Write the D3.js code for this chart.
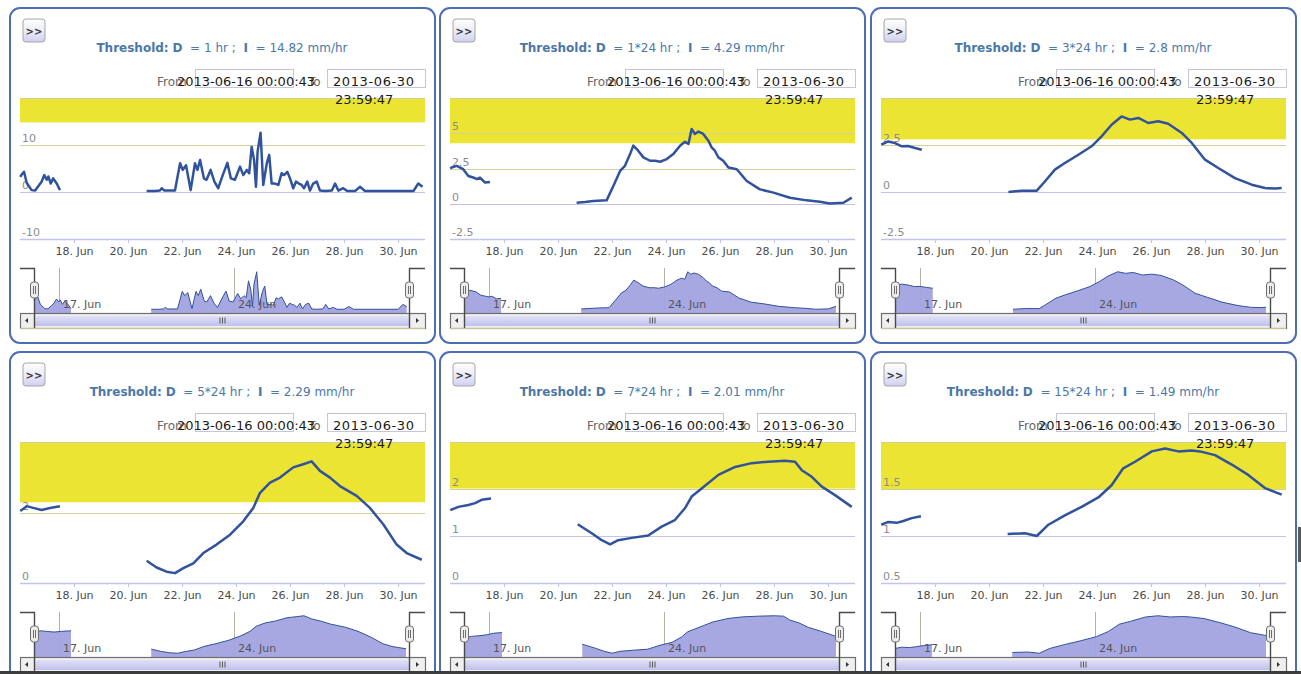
<!DOCTYPE html>
<html>
<head>
<meta charset="utf-8">
<script src="https://cdn.jsdelivr.net/npm/d3@7"></script>
<style>
  html, body { margin: 0; padding: 0; background: #fff; }
  svg { display: block; font-family: "DejaVu Sans", sans-serif; }
</style>
</head>
<body>
<svg id="chart" width="1301" height="674"></svg>
<script>
// ---- rainfall intensity series (day of June 2013, mm/hr); null marks a data gap ----
const series1h = [[16.01,3.2],[16.05,3.6],[16.15,4.3],[16.25,1.9],[16.43,0.4],[16.56,0.3],[16.71,1.5],[16.8,2.2],[16.9,3.6],[16.99,2.6],[17.05,3.3],[17.14,1.8],[17.23,2.9],[17.36,1.8],[17.48,0.4], null,
  [20.69,0.2],[21.0,0.2],[21.18,0.3],[21.25,0.8],[21.35,0.3],[21.74,0.3],[21.93,6.1],[22.03,4.7],[22.15,5.7],[22.32,0.4],[22.48,6.1],[22.57,4.7],[22.67,6.8],[22.81,2.9],[22.91,2.6],[23.06,4.7],[23.2,2.2],[23.34,0.8],[23.51,3.6],[23.68,6.2],[23.81,2.9],[23.96,2.6],[24.15,5.4],[24.27,3.6],[24.4,4.7],[24.49,4.0],[24.58,9.6],[24.67,6.8],[24.74,1.1],[24.8,8.6],[24.91,12.6],[25.01,1.5],[25.14,6.1],[25.23,7.9],[25.32,1.8],[25.44,1.8],[25.57,1.5],[25.69,4.0],[25.78,3.6],[25.9,4.3],[26.0,2.9],[26.12,0.8],[26.22,2.2],[26.33,1.8],[26.43,1.5],[26.52,0.8],[26.64,2.2],[26.74,0.3],[26.86,1.8],[26.99,2.2],[27.11,0.3],[27.3,0.2],[27.55,0.3],[27.67,1.8],[27.79,0.3],[27.97,0.8],[28.12,0.2],[28.41,0.2],[28.59,1.1],[28.78,0.2],[30.57,0.2],[30.75,1.8],[30.91,1.1]];
const series1d = [[16.01,2.5],[16.06,2.57],[16.25,2.69],[16.49,2.45],[16.68,1.97],[16.86,1.86],[17.0,1.75],[17.11,1.86],[17.3,1.5],[17.48,1.54], null,
  [20.69,0.07],[21.0,0.12],[21.31,0.19],[21.8,0.24],[22.05,1.26],[22.3,2.33],[22.48,2.69],[22.67,3.52],[22.79,4.12],[22.97,3.76],[23.16,3.29],[23.41,3.05],[23.6,3.05],[23.78,2.98],[24.03,3.17],[24.27,3.52],[24.52,4.12],[24.7,4.4],[24.83,4.24],[24.95,5.3],[25.07,4.95],[25.2,5.12],[25.38,4.95],[25.57,4.47],[25.69,4.0],[25.81,3.76],[25.94,3.29],[26.12,3.05],[26.31,2.57],[26.62,2.45],[26.99,1.61],[27.48,1.02],[27.98,0.79],[28.59,0.43],[29.21,0.24],[29.7,0.14],[30.07,0.02],[30.57,0.07],[30.88,0.43]];
const series3d = [[16.01,2.52],[16.27,2.69],[16.52,2.6],[16.77,2.43],[17.0,2.45],[17.26,2.34],[17.51,2.25], null,
  [20.72,0.0],[21.21,0.07],[21.77,0.07],[22.07,0.56],[22.44,1.19],[22.81,1.54],[23.31,1.98],[23.8,2.43],[24.17,2.96],[24.54,3.58],[24.91,4.02],[25.22,3.85],[25.53,3.94],[25.9,3.67],[26.27,3.76],[26.64,3.63],[27.14,3.14],[27.51,2.61],[28.0,1.72],[28.49,1.28],[29.11,0.74],[29.73,0.39],[30.22,0.21],[30.6,0.18],[30.84,0.21]];
const series5d = [[16.01,2.04],[16.25,2.18],[16.49,2.13],[16.8,2.07],[17.11,2.13],[17.48,2.18], null,
  [20.69,0.63],[21.06,0.44],[21.43,0.32],[21.74,0.28],[22.05,0.42],[22.42,0.56],[22.79,0.85],[23.28,1.09],[23.78,1.37],[24.27,1.75],[24.64,2.13],[24.89,2.56],[25.26,2.85],[25.63,2.99],[26.12,3.28],[26.49,3.37],[26.8,3.45],[27.11,3.18],[27.48,2.99],[27.85,2.75],[28.47,2.47],[28.96,2.13],[29.46,1.66],[29.95,1.09],[30.32,0.85],[30.88,0.66]];
const series7d = [[16.01,1.55],[16.31,1.62],[16.68,1.66],[16.93,1.7],[17.17,1.77],[17.52,1.8], null,
  [20.73,1.25],[21.25,1.06],[21.62,0.91],[21.93,0.82],[22.23,0.91],[22.73,0.96],[23.34,1.01],[23.84,1.2],[24.33,1.34],[24.7,1.59],[24.95,1.84],[25.32,2.01],[25.94,2.3],[26.56,2.47],[27.17,2.55],[27.79,2.58],[28.41,2.6],[28.78,2.58],[29.03,2.4],[29.4,2.26],[29.77,2.05],[30.26,1.87],[30.88,1.62]];
const series15d = [[16.01,1.12],[16.27,1.15],[16.58,1.14],[16.83,1.16],[17.14,1.19],[17.48,1.21], null,
  [20.69,1.02],[21.33,1.03],[21.77,1.0],[22.2,1.12],[22.81,1.22],[23.43,1.31],[24.05,1.41],[24.54,1.54],[24.97,1.72],[25.41,1.79],[26.03,1.9],[26.52,1.93],[27.01,1.9],[27.51,1.91],[27.81,1.9],[28.37,1.86],[28.99,1.76],[29.6,1.65],[30.22,1.51],[30.84,1.44]];

// ---- per-chart settings ----
const durations  = ["1", "1*24", "3*24", "5*24", "7*24", "15*24"];
const thresholds = [14.82, 4.29, 2.8, 2.29, 2.01, 1.49];
const yDomains   = [[-10, 20], [-2.5, 7.5], [-2.5, 5], [0, 4], [0, 3], [0.5, 2]];
const yTickValues = [[-10, 0, 10, 20], [-2.5, 0, 2.5, 5, 7.5], [-2.5, 0, 2.5, 5], [0, 2, 4], [0, 1, 2, 3], [0.5, 1, 1.5, 2]];
const xTickDays   = [18, 20, 22, 24, 26, 28, 30];
const navTickDays = [17, 24];
const rangeFrom   = "2013-06-16 00:00:43";
const rangeToDate = "2013-06-30";
const rangeToTime = "23:59:47";

const allSeries = [series1h, series1d, series3d, series5d, series7d, series15d];

// ---- layout ----
const colLeft = [20, 450, 881];
const rowTop  = [8, 352];
const plotW = 405;
const navInset = 14;

const dayToDate = d => new Date(Date.UTC(2013, 5, 1) + (d - 1) * 864e5);
const tStart = new Date(Date.UTC(2013, 5, 16, 0, 0, 43));
const tEnd   = new Date(Date.UTC(2013, 5, 30, 23, 59, 47));
const fmtDay = d3.utcFormat("%-d. %b");

const C = {
  border: "#4d6db6", title: "#4b78a8", line: "#31529c", yellow: "#ece432",
  gridTan: "#d2d09c", gridLav: "#c2c2f0", navFill: "#a2a2e0", axisText: "#4a4a4a",
  yText: "#8c8c8c"
};

const svg = d3.select("#chart");
const defs = svg.append("defs");
const btnGrad = defs.append("linearGradient").attr("id", "btnGrad").attr("x1", 0).attr("y1", 0).attr("x2", 0).attr("y2", 1);
btnGrad.append("stop").attr("offset", "0%").attr("stop-color", "#ffffff");
btnGrad.append("stop").attr("offset", "55%").attr("stop-color", "#eaeaf8");
btnGrad.append("stop").attr("offset", "100%").attr("stop-color", "#cfcff0");
const barGrad = defs.append("linearGradient").attr("id", "barGrad").attr("x1", 0).attr("y1", 0).attr("x2", 0).attr("y2", 1);
barGrad.append("stop").attr("offset", "0%").attr("stop-color", "#e0e0f8");
barGrad.append("stop").attr("offset", "100%").attr("stop-color", "#c0c0ec");

allSeries.forEach((data, i) => {
  const pl = colLeft[i % 3];
  const pt = rowTop[Math.floor(i / 3)];
  const thr = thresholds[i];
  const ticks = yTickValues[i];
  const step = ticks[1] - ticks[0];
  const g = svg.append("g");

  // panel frame
  g.append("rect").attr("x", pl - 10).attr("y", pt).attr("width", 425).attr("height", 335)
    .attr("rx", 10).attr("fill", "#fff").attr("stroke", C.border).attr("stroke-width", 2);

  // expand button
  g.append("rect").attr("x", pl + 3).attr("y", pt + 11).attr("width", 22).attr("height", 23)
    .attr("rx", 3).attr("fill", "url(#btnGrad)").attr("stroke", "#a6a6a6");
  g.append("text").attr("x", pl + 14).attr("y", pt + 27).attr("text-anchor", "middle")
    .attr("font-size", 10).attr("font-weight", "bold").attr("fill", "#3a3a3a").text(">>");

  // title
  const title = g.append("text").attr("x", pl + 202).attr("y", pt + 44).attr("text-anchor", "middle")
    .attr("font-size", 12).attr("fill", C.title).style("white-space", "pre");
  title.append("tspan").attr("font-weight", "bold").text("Threshold:");
  title.append("tspan").text(" ");
  title.append("tspan").attr("font-weight", "bold").text("D");
  title.append("tspan").text(`  = ${durations[i]} hr ;  `);
  title.append("tspan").attr("font-weight", "bold").text("I");
  title.append("tspan").text(`  = ${thr} mm/hr`);

  // range inputs
  g.append("text").attr("x", pl + 137).attr("y", pt + 78).attr("font-size", 12).attr("fill", "#666").text("From");
  g.append("text").attr("x", pl + 288).attr("y", pt + 78).attr("font-size", 12).attr("fill", "#666").text("To");
  g.append("rect").attr("x", pl + 175.5).attr("y", pt + 61.5).attr("width", 98).attr("height", 18)
    .attr("fill", "none").attr("stroke", "#c4c4de");
  g.append("rect").attr("x", pl + 307.5).attr("y", pt + 61.5).attr("width", 98).attr("height", 18)
    .attr("fill", "none").attr("stroke", "#c4c4de");
  g.append("text").attr("x", pl + 157).attr("y", pt + 78).attr("font-size", 13).attr("fill", "#1a1a1a").text(rangeFrom);

  // scales
  const x = d3.scaleUtc().domain([tStart, tEnd]).range([pl, pl + plotW]);
  const yTop = pt + 90, yBot = pt + 231;
  const y = d3.scaleLinear().domain(yDomains[i]).range([yBot, yTop]);

  // threshold band
  g.append("rect").attr("x", pl).attr("y", yTop).attr("width", plotW).attr("height", y(thr) - yTop)
    .attr("fill", C.yellow);

  // grid lines
  ticks.forEach(v => {
    const tan = v > 0 && v > thr - 0.9 * step;
    g.append("line").attr("x1", pl).attr("x2", pl + plotW)
      .attr("y1", Math.round(y(v)) + 0.5).attr("y2", Math.round(y(v)) + 0.5)
      .attr("stroke", tan ? C.gridTan : C.gridLav).attr("stroke-width", v === yDomains[i][0] ? 1.5 : 1);
  });
  ticks.slice(0, -1).forEach(v => {
    g.append("text").attr("x", pl + 2).attr("y", y(v) - 3).attr("font-size", 11).attr("fill", C.yText)
      .text(String(v));
  });

  // x axis ticks and labels
  xTickDays.forEach(d => {
    const xx = Math.round(x(dayToDate(d))) + 0.5;
    g.append("line").attr("x1", xx).attr("x2", xx).attr("y1", yBot).attr("y2", yBot + 4)
      .attr("stroke", C.gridLav);
    g.append("text").attr("x", xx).attr("y", pt + 247).attr("text-anchor", "middle")
      .attr("font-size", 11).attr("fill", C.axisText).text(fmtDay(dayToDate(d)));
  });

  // end date, its time wraps onto a second line over the band
  g.append("text").attr("x", pl + 313).attr("y", pt + 78).attr("font-size", 13).attr("fill", "#1a1a1a")
    .attr("letter-spacing", 0.6).text(rangeToDate);
  g.append("text").attr("x", pl + 315).attr("y", pt + 96).attr("font-size", 13).attr("fill", "#1a1a1a")
    .text(rangeToTime);

  // main series
  const line = d3.line().defined(d => d !== null)
    .x(d => x(dayToDate(d[0]))).y(d => y(d[1])).curve(d3.curveLinear);
  g.append("path").datum(data).attr("d", line).attr("fill", "none")
    .attr("stroke", C.line).attr("stroke-width", 2.5).attr("stroke-linejoin", "round");

  // ---- navigator ----
  const nTop = pt + 260, nBot = pt + 305, sBot = pt + 320;
  const nL = pl + navInset, nR = pl + navInset + 375;
  const xn = d3.scaleUtc().domain([tStart, tEnd]).range([nL, nR]);
  const vals = data.filter(d => d !== null).map(d => d[1]);
  const [vMin, vMax] = d3.extent(vals);
  const pad = (vMax - vMin) * 0.1;
  const yn = d3.scaleLinear().domain([vMin - pad, vMax + pad]).range([nBot, nTop]);

  navTickDays.forEach(d => {
    const xx = Math.round(xn(dayToDate(d))) + 0.5;
    g.append("line").attr("x1", xx).attr("x2", xx).attr("y1", nTop).attr("y2", nBot)
      .attr("stroke", "#b4b4a4").attr("stroke-width", 1);
  });
  const area = d3.area().defined(d => d !== null)
    .x(d => xn(dayToDate(d[0]))).y0(nBot).y1(d => yn(d[1]));
  g.append("path").datum(data).attr("d", area).attr("fill", C.navFill).attr("fill-opacity", 0.95);
  g.append("path").datum(data).attr("d", d3.line().defined(d => d !== null)
      .x(d => xn(dayToDate(d[0]))).y(d => yn(d[1])))
    .attr("fill", "none").attr("stroke", C.line).attr("stroke-width", 1);
  navTickDays.forEach(d => {
    const xx = xn(dayToDate(d));
    g.append("text").attr("x", xx + 4).attr("y", pt + 300).attr("font-size", 11).attr("fill", "#555")
      .text(fmtDay(dayToDate(d)));
  });

  // scrollbar
  g.append("rect").attr("x", pl + 0.5).attr("y", nBot + 0.5).attr("width", plotW).attr("height", sBot - nBot)
    .attr("fill", "#efefef").attr("stroke", "#6e6e6e").attr("stroke-width", 1.2);
  g.append("rect").attr("x", nL).attr("y", nBot + 3).attr("width", nR - nL).attr("height", sBot - nBot - 5)
    .attr("fill", "url(#barGrad)");
  g.append("line").attr("x1", pl).attr("x2", pl + plotW).attr("y1", sBot + 0.5).attr("y2", sBot + 0.5)
    .attr("stroke", "#c9c58e");
  const midX = Math.round((nL + nR) / 2), midY = (nBot + sBot) / 2;
  [-2.5, 0, 2.5].forEach(o => g.append("line").attr("x1", midX + o + 0.5).attr("x2", midX + o + 0.5)
    .attr("y1", midY - 3).attr("y2", midY + 3).attr("stroke", "#555"));
  g.append("path").attr("d", `M${pl + 8},${midY - 2.5}L${pl + 5},${midY}L${pl + 8},${midY + 2.5}Z`).attr("fill", "#333");
  g.append("path").attr("d", `M${pl + plotW - 9},${midY - 2.5}L${pl + plotW - 6},${midY}L${pl + plotW - 9},${midY + 2.5}Z`).attr("fill", "#333");

  // navigator outline
  g.append("path")
    .attr("d", `M${pl},${nTop + 0.5}H${nL + 0.5}V${sBot}M${nR + 0.5},${sBot}V${nTop + 0.5}H${pl + plotW}`)
    .attr("fill", "none").attr("stroke", "#4a4a4a").attr("stroke-width", 1.4);

  // handles
  [nL, nR].forEach(hx => {
    const hy = pt + 282;
    g.append("rect").attr("x", hx - 3.5).attr("y", hy - 8).attr("width", 8).attr("height", 16)
      .attr("rx", 3).attr("fill", "#ececea").attr("stroke", "#6e6e6e");
    [-0.5, 1.5].forEach(o => g.append("line").attr("x1", hx + o).attr("x2", hx + o)
      .attr("y1", hy - 4).attr("y2", hy + 4).attr("stroke", "#6e6e6e"));
  });
});

// window edge details
svg.append("rect").attr("x", 0).attr("y", 671).attr("width", 1301).attr("height", 3).attr("fill", "#3c3c3c");
svg.append("rect").attr("x", 1298).attr("y", 527).attr("width", 3).attr("height", 35).attr("fill", "#5a5a5a");
</script>
</body>
</html>
